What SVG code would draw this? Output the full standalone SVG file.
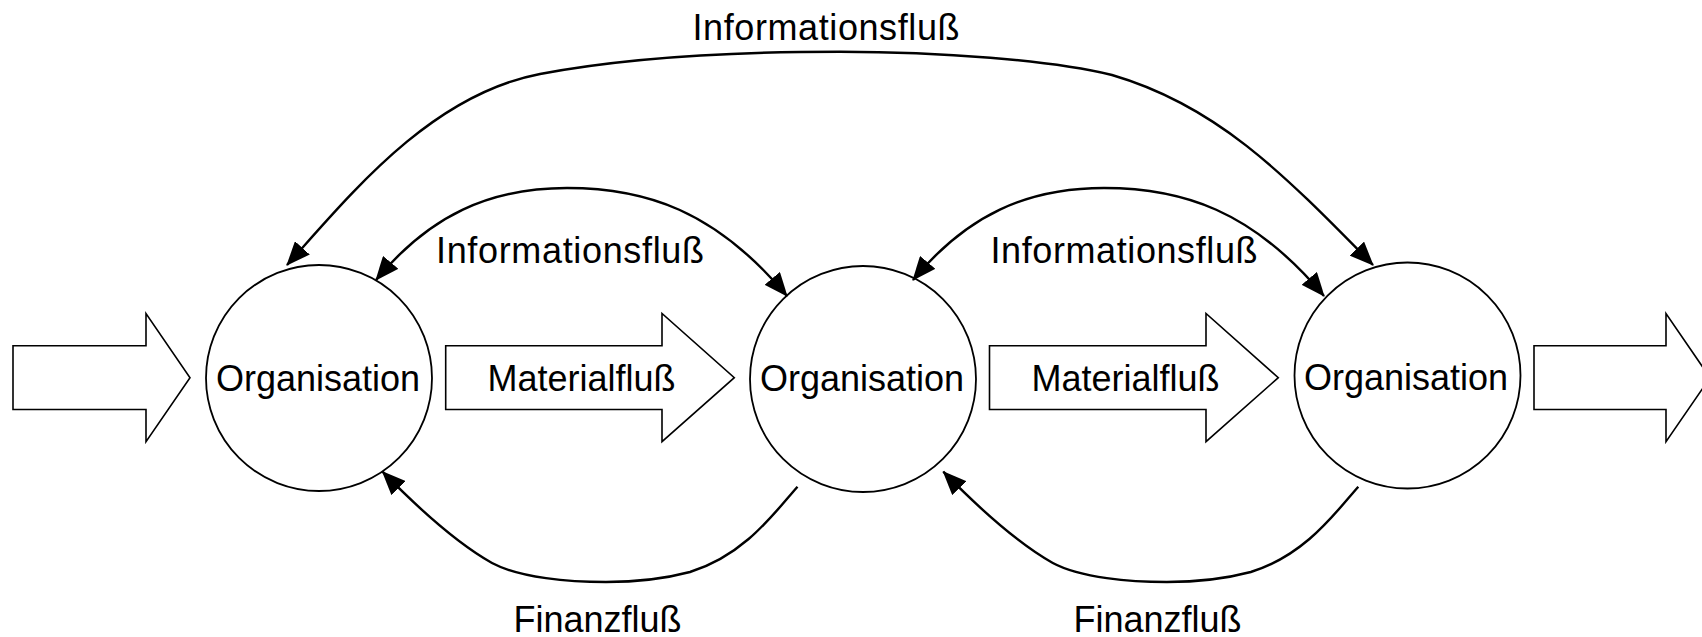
<svg xmlns="http://www.w3.org/2000/svg" width="1702" height="637" viewBox="0 0 1702 637">
<style>
.node{fill:#fff;stroke:#000;stroke-width:1.8}
.block{fill:#fff;stroke:#000;stroke-width:1.6}
.conn{fill:none;stroke:#000;stroke-width:2.4}
text{font-family:"Liberation Sans",Arial,sans-serif;font-size:36px;fill:#000;text-anchor:middle}
</style>
<defs>
<marker id="ah" markerUnits="userSpaceOnUse" markerWidth="24" markerHeight="20" viewBox="0 0 24 20" refX="23" refY="10" orient="auto-start-reverse"><path d="M0,0 L24,10 L0,20 z" fill="#000"/></marker>
</defs>
<rect width="1702" height="637" fill="#fff"/>
<g id="flow-in"><polygon class="block" points="13,345.7 146,345.7 146,313.5 190,377.7 146,441.7 146,409.5 13,409.5"/></g>
<g id="material-1"><polygon class="block" points="445.7,345.7 662,345.7 662,313.5 734.3,377.7 662,441.7 662,409.5 445.7,409.5"/><text x="581.5" y="391">Materialfluß</text></g>
<g id="material-2"><polygon class="block" points="989.5,345.7 1206,345.7 1206,313.5 1278.3,377.7 1206,441.7 1206,409.5 989.5,409.5"/><text x="1125.5" y="391">Materialfluß</text></g>
<g id="flow-out"><polygon class="block" points="1534,345.7 1666,345.7 1666,313.5 1710,377.7 1666,441.7 1666,409.5 1534,409.5"/></g>
<g id="org-1"><circle class="node" cx="319" cy="378" r="113"/><text x="318" y="391">Organisation</text></g>
<g id="org-2"><circle class="node" cx="863" cy="379" r="113"/><text x="862" y="391">Organisation</text></g>
<g id="org-3"><circle class="node" cx="1407.5" cy="375.5" r="113"/><text x="1406" y="390">Organisation</text></g>
<g id="connectors">
<path class="conn" marker-start="url(#ah)" marker-end="url(#ah)" d="M 287 265 C 350 195 430 95 540 74 C 640 55 760 51.7 840 51.7 C 940 51.7 1050 60 1112 75 C 1215 105 1280 170 1373 265"/>
<path class="conn" marker-start="url(#ah)" marker-end="url(#ah)" d="M 376 280 C 430 215 490 188 567 188 C 645 188 715 210 787 296"/>
<path class="conn" marker-start="url(#ah)" marker-end="url(#ah)" d="M 913 280 C 967 215 1027 188 1104 188 C 1182 188 1252 210 1324 296"/>
<path class="conn" marker-end="url(#ah)" d="M 797.5 486.7 C 775 512 745 555 690 572 C 660 580 630 582 606 582 C 570 582 520 578 492 563 C 460 545 420 510 382.5 471.7"/>
<path class="conn" marker-end="url(#ah)" d="M 1358.3 486.7 C 1335.8 512 1305.8 555 1250.8 572 C 1220.8 580 1190.8 582 1166.8 582 C 1130.8 582 1080.8 578 1052.8 563 C 1020.8 545 980.8 510 943.3 471.7"/>
<text x="826" y="40" textLength="267">Informationsfluß</text>
<text x="570" y="263" textLength="268">Informationsfluß</text>
<text x="1124" y="263" textLength="267">Informationsfluß</text>
<text x="597.5" y="632">Finanzfluß</text>
<text x="1157.5" y="632">Finanzfluß</text>
</g>
</svg>
